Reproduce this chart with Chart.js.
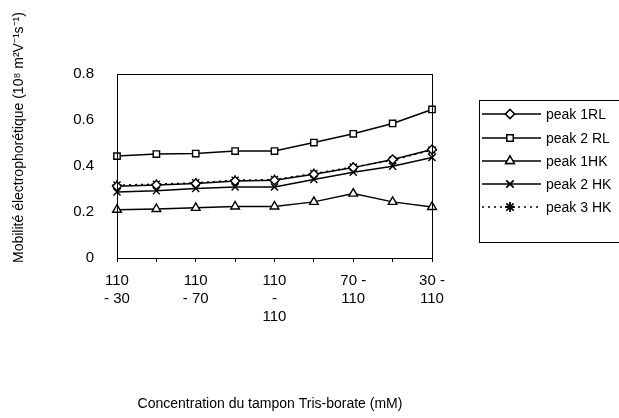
<!DOCTYPE html>
<html>
<head>
<meta charset="utf-8">
<script src="https://cdn.jsdelivr.net/npm/chart.js@4/dist/chart.umd.min.js"></script>
<style>
  html, body { margin: 0; padding: 0; background: #fff; }
  #wrap { width: 619px; height: 418px; }
</style>
</head>
<body>
<div id="wrap"><canvas id="chart" width="619" height="418"></canvas></div>
<script>
//data
const categories = [['110','- 30'],['110','- 50'],['110','- 70'],['110','- 90'],['110','-','110'],['90 -','110'],['70 -','110'],['50 -','110'],['30 -','110']];
const peak1RL = [0.312, 0.317, 0.324, 0.335, 0.338, 0.364, 0.393, 0.428, 0.472];
const peak2RL = [0.443, 0.452, 0.454, 0.465, 0.465, 0.502, 0.540, 0.585, 0.646];
const peak1HK = [0.210, 0.213, 0.218, 0.224, 0.224, 0.244, 0.280, 0.244, 0.222];
const peak2HK = [0.287, 0.292, 0.302, 0.309, 0.309, 0.341, 0.373, 0.399, 0.437];
const peak3HK = [0.317, 0.321, 0.327, 0.338, 0.341, 0.367, 0.396, 0.425, 0.469];
const seriesNames = ['peak 1RL', 'peak 2 RL', 'peak 1HK', 'peak 2 HK', 'peak 3 HK'];
const yTicks = [0, 0.2, 0.4, 0.6, 0.8];

const font = "'Liberation Sans', Arial, sans-serif";

//one dataset per series, open black markers
function makeSet(name, values, style, dash, radius){
	return {
		label: name,
		data: values,
		borderColor: '#000',
		borderWidth: 1.5,
		borderDash: dash,
		pointStyle: style,
		pointRadius: radius,
		pointBorderColor: '#000',
		pointBorderWidth: 1.4,
		pointBackgroundColor: style == 'crossRot' || style == 'star' ? '#000' : '#fff',
		tension: 0
	};
}

const sets = [
	makeSet(seriesNames[0], peak1RL, 'rectRot', [], 4.5),
	makeSet(seriesNames[1], peak2RL, 'rect', [], 4.5),
	makeSet(seriesNames[2], peak1HK, 'triangle', [], 5),
	makeSet(seriesNames[3], peak2HK, 'crossRot', [], 5),
	makeSet(seriesNames[4], peak3HK, 'star', [2, 4], 5)
];

//draws the frame, the axis titles and the boxed legend
const extras = {
	id: 'extras',
	afterDraw(chart){
		const c = chart.ctx;
		const a = chart.chartArea;
		c.save();
		c.strokeStyle = '#000';
		c.lineWidth = 1;
		c.strokeRect(a.left + 0.5, a.top + 0.5, a.right - a.left, a.bottom - a.top);

		//axis titles
		c.fillStyle = '#000';
		c.font = '14px ' + font;
		c.textAlign = 'center';
		c.textBaseline = 'middle';
		c.fillText('Concentration du tampon Tris-borate (mM)', 270, 404);
		c.translate(19, 263);
		c.rotate(-Math.PI / 2);
		c.textAlign = 'left';
		c.fillText('Mobilité électrophorétique (10\u2078 m\u00B2V\u207B\u00B9s\u207B\u00B9)', 0, 0);
		c.setTransform(1, 0, 0, 1, 0, 0);

		//legend box, cut by the right edge like the original
		const lx = 479, ly = 100;
		c.strokeRect(lx + 0.5, ly + 0.5, 150, 142);
		const rows = [114, 138, 161, 184, 207];
		c.font = '14px ' + font;
		c.textAlign = 'left';
		for(let i = 0; i < sets.length; i++){
			const y = rows[i];
			const ds = sets[i];
			c.lineWidth = 1.5;
			c.setLineDash(ds.borderDash);
			c.beginPath();
			c.moveTo(lx + 3, y);
			c.lineTo(lx + 62, y);
			c.stroke();
			c.setLineDash([]);
			c.lineWidth = 1.4;
			Chart.helpers.drawPoint(c, {
				pointStyle: ds.pointStyle,
				radius: ds.pointRadius,
				borderWidth: 1.4
			}, lx + 31, y);
			c.fillStyle = ds.pointBackgroundColor;
			c.fill();
			c.stroke();
			c.fillStyle = '#000';
			c.fillText(ds.label, lx + 67, y + 1);
		}
		c.restore();
	}
};

new Chart(document.getElementById('chart'), {
	type: 'line',
	data: { labels: categories, datasets: sets },
	options: {
		responsive: false,
		animation: false,
		layout: { padding: { left: 0, top: 74, right: 187, bottom: 60 } },
		plugins: { legend: { display: false }, tooltip: { enabled: false } },
		scales: {
			x: {
				offset: false,
				grid: { display: true, drawOnChartArea: false, tickLength: 4, color: '#000' },
				border: { display: true, color: '#000' },
				ticks: {
					autoSkip: false,
					maxRotation: 0,
					padding: 10,
					color: '#000',
					font: { family: font, size: 15, lineHeight: 1.2 },
					callback: function(value, index){
						return index % 2 == 0 ? this.getLabelForValue(value) : '';
					}
				},
				afterFit: s => { s.height = 100; }
			},
			y: {
				min: 0,
				max: 0.8,
				afterBuildTicks: s => { s.ticks = yTicks.map(v => ({ value: v })); },
				grid: { display: false },
				border: { display: true, color: '#000' },
				ticks: {
					padding: 15,
					color: '#000',
					font: { family: font, size: 15 },
					callback: v => v == 0 ? '0' : v.toFixed(1)
				},
				afterFit: s => { s.width = 117; }
			}
		}
	},
	plugins: [extras]
});
</script>
</body>
</html>
